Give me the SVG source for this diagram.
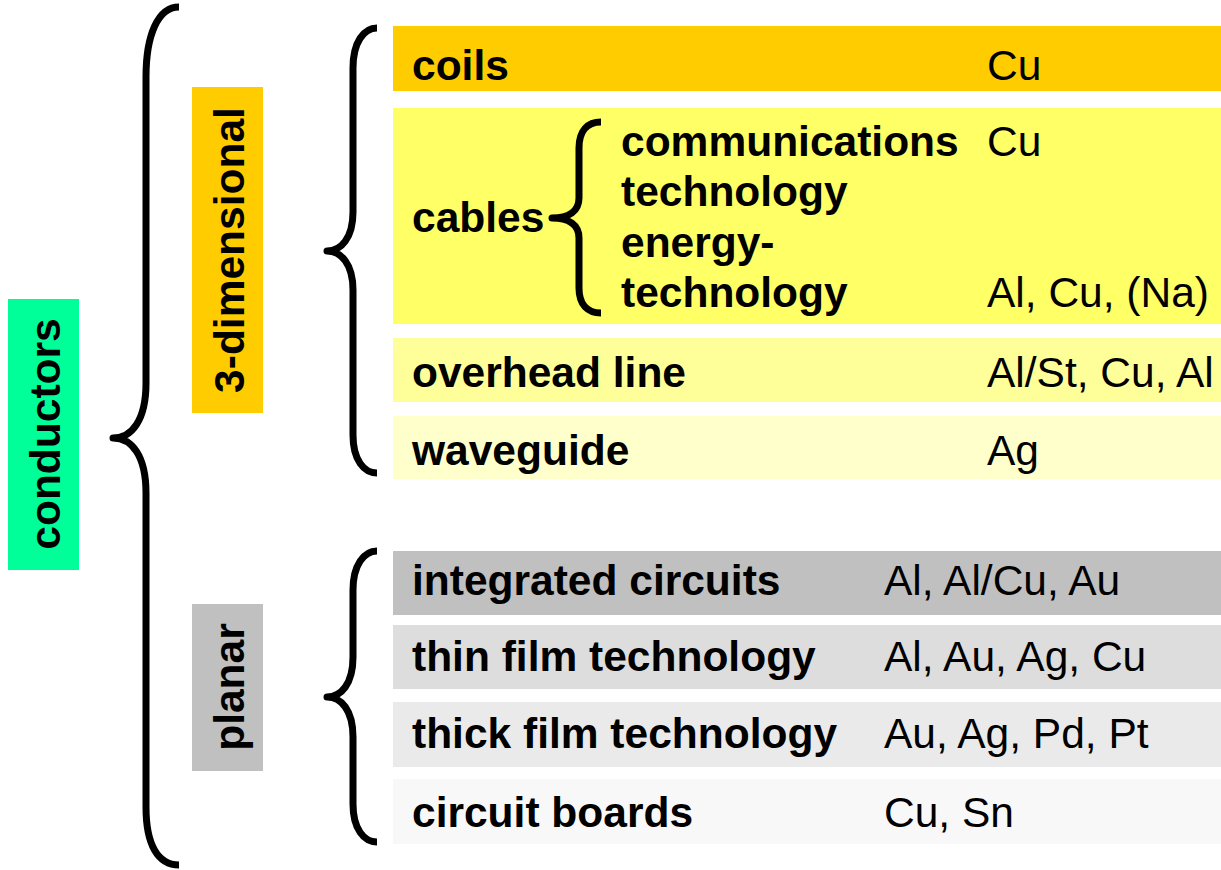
<svg xmlns="http://www.w3.org/2000/svg" width="1221" height="870" viewBox="0 0 1221 870">
<style>
text{font-family:"Liberation Sans",Arial,sans-serif;font-size:42.5px;fill:#000}
.b{font-weight:bold}
.brace{fill:none;stroke:#000;stroke-width:7;stroke-linecap:butt;stroke-linejoin:round}
</style>
<rect width="1221" height="870" fill="#fff"/>
<g id="conductors">
<rect x="8" y="299" width="71" height="271" fill="#00FF99"/>
<text class="b" x="60" y="434" text-anchor="middle" transform="rotate(-90 60 434)">conductors</text>
</g>
<g id="three-dimensional">
<rect x="192" y="87" width="71" height="326" fill="#FFCC00"/>
<text class="b" x="244" y="250" text-anchor="middle" transform="rotate(-90 244 250)">3-dimensional</text>
</g>
<g id="planar">
<rect x="192" y="604" width="71" height="167" fill="#C0C0C0"/>
<text class="b" x="244" y="687" text-anchor="middle" transform="rotate(-90 244 687)">planar</text>
</g>
<g id="coils">
<rect x="393" y="26" width="828" height="65" fill="#FFCC00"/>
<text class="b" x="412" y="80">coils</text>
<text x="987" y="80">Cu</text>
</g>
<g id="cables">
<rect x="393" y="108" width="828" height="216" fill="#FFFF66"/>
<text class="b" x="412" y="232">cables</text>
<text class="b" x="621" y="156">communications</text>
<text class="b" x="621" y="206">technology</text>
<text class="b" x="621" y="257">energy-</text>
<text class="b" x="621" y="307">technology</text>
<text x="987" y="156">Cu</text>
<text x="987" y="307">Al, Cu, (Na)</text>
</g>
<g id="overhead-line">
<rect x="393" y="338" width="828" height="64" fill="#FFFF99"/>
<text class="b" x="412" y="387">overhead line</text>
<text x="987" y="387">Al/St, Cu, Al</text>
</g>
<g id="waveguide">
<rect x="393" y="416" width="828" height="63" fill="#FFFFCC"/>
<text class="b" x="412" y="465">waveguide</text>
<text x="987" y="465">Ag</text>
</g>
<g id="integrated-circuits">
<rect x="393" y="551" width="828" height="64" fill="#C0C0C0"/>
<text class="b" x="412" y="595">integrated circuits</text>
<text x="884" y="595">Al, Al/Cu, Au</text>
</g>
<g id="thin-film">
<rect x="393" y="625" width="828" height="64" fill="#DDDDDD"/>
<text class="b" x="412" y="671">thin film technology</text>
<text x="884" y="671">Al, Au, Ag, Cu</text>
</g>
<g id="thick-film">
<rect x="393" y="702" width="828" height="65" fill="#EAEAEA"/>
<text class="b" x="412" y="748">thick film technology</text>
<text x="884" y="748">Au, Ag, Pd, Pt</text>
</g>
<g id="circuit-boards">
<rect x="393" y="779" width="828" height="65" fill="#F8F8F8"/>
<text class="b" x="412" y="827">circuit boards</text>
<text x="884" y="827">Cu, Sn</text>
</g>
<g id="connectors">
<path class="brace" d="M179 7 C158 7 146 35 146 77 L146 383 C146 420 132 438 113 438 C132 438 146 456 146 493 L146 807 C146 845 158 865 179 865"/>
<path class="brace" d="M377 28 C364 28 353 42 353 68 L353 212 C353 238 341 251 327 251 C341 251 353 264 353 290 L353 435 C353 460 364 473 377 473"/>
<path class="brace" d="M377 551 C364 551 353 565 353 590 L353 657 C353 684 341 697 327 697 C341 697 353 710 353 737 L353 804 C353 829 364 842 377 842"/>
<path class="brace" d="M601 122 C588 122 579 130 579 148 L579 198 C579 211 569 218 552 218 C569 218 579 225 579 238 L579 288 C579 305 588 313 601 313"/>
</g>
</svg>
